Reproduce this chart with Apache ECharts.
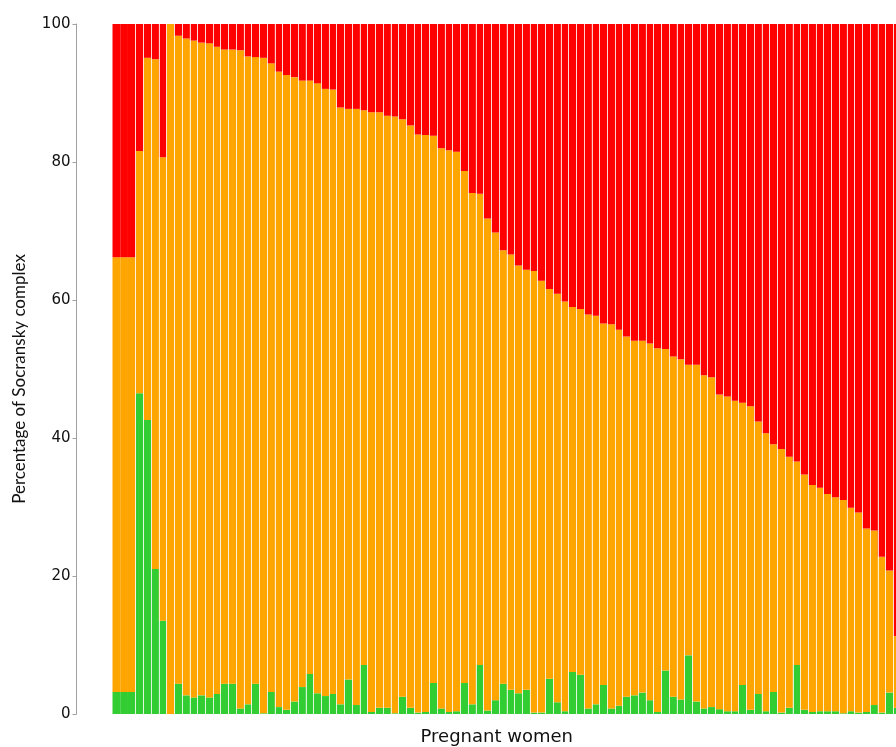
<!DOCTYPE html>
<html>
<head>
<meta charset="utf-8">
<script src="https://cdn.jsdelivr.net/npm/echarts@6/dist/echarts.min.js"></script>
<style>
html,body{margin:0;padding:0;background:#fff;}
#c{width:896px;height:747px;}
</style>
</head>
<body>
<div id="c"></div>
<script>
// Bars (one per pregnant woman)
const women = Array.from({length: 102}, (_, i) => String(i + 1));

const greenComplex = [3.2,3.2,3.2,46.5,42.6,21.0,13.5,0,4.4,2.7,2.4,2.7,2.4,2.9,4.4,4.4,0.8,1.4,4.4,0.1,3.2,1.0,0.6,1.8,3.9,5.8,3.0,2.6,2.9,1.4,5.0,1.3,7.1,0.3,0.9,0.9,0.1,2.5,0.9,0.2,0.3,4.5,0.8,0.3,0.4,4.5,1.4,7.1,0.5,2.0,4.4,3.5,3.0,3.5,0.2,0.2,5.1,1.7,0.4,6.1,5.7,0.8,1.4,4.2,0.8,1.2,2.5,2.7,3.1,2.0,0.3,6.3,2.5,2.1,8.5,1.8,0.8,1.0,0.7,0.4,0.4,4.2,0.6,2.9,0.4,3.2,0.2,0.9,7.1,0.6,0.3,0.4,0.4,0.4,0.1,0.4,0.2,0.3,1.3,0.2,3.1,0.9];

const orangeComplex = [63.0,63.0,63.0,35.1,52.5,73.9,67.2,100,93.9,95.2,95.2,94.6,94.8,93.8,91.9,91.9,95.4,93.9,90.8,95.0,91.1,92.1,92.0,90.5,87.9,86.0,88.4,88.0,87.6,86.5,82.7,86.4,80.4,86.9,86.3,85.8,86.5,83.7,84.4,83.8,83.6,79.3,81.2,81.4,81.1,74.2,74.1,68.3,71.3,67.8,62.8,63.1,62.0,60.9,64.0,62.6,56.5,59.2,59.4,52.9,53.0,57.1,56.3,52.4,55.7,54.5,52.2,51.4,51.0,51.7,52.7,46.6,49.3,49.3,42.1,48.8,48.3,47.8,45.6,45.6,45.0,40.9,44.0,39.5,40.3,35.9,38.2,36.4,29.5,34.1,32.9,32.4,31.5,31.0,30.9,29.5,29.0,26.6,25.3,22.6,17.7,10.4];

const redComplex = [33.8,33.8,33.8,18.4,4.9,5.1,19.3,0,1.7,2.1,2.4,2.7,2.8,3.3,3.7,3.7,3.8,4.7,4.8,4.9,5.7,6.9,7.4,7.7,8.2,8.2,8.6,9.4,9.5,12.1,12.3,12.3,12.5,12.8,12.8,13.3,13.4,13.8,14.7,16.0,16.1,16.2,18.0,18.3,18.5,21.3,24.5,24.6,28.2,30.2,32.8,33.4,35.0,35.6,35.8,37.2,38.4,39.1,40.2,41.0,41.3,42.1,42.3,43.4,43.5,44.3,45.3,45.9,45.9,46.3,47.0,47.1,48.2,48.6,49.4,49.4,50.9,51.2,53.7,54.0,54.6,54.9,55.4,57.6,59.3,60.9,61.6,62.7,63.4,65.3,66.8,67.2,68.1,68.6,69.0,70.1,70.8,73.1,73.4,77.2,79.2,88.7];

const yTicks = [0, 20, 40, 60, 80, 100];

const chart = echarts.init(document.getElementById('c'), null, {renderer: 'canvas'});
chart.setOption({
  animation: false,
  backgroundColor: '#ffffff',
  grid: {left: 112.5, width: 788.5, top: 24, height: 690, containLabel: false, outerBoundsMode: 'none'},
  xAxis: {
    type: 'category',
    data: women,
    z: 10,
    axisLine: {show: false},
    axisTick: {show: false},
    axisLabel: {show: false},
    splitLine: {
      show: true,
      interval: function (index) { return index > 2; },
      lineStyle: {color: 'rgba(255,255,255,0.8)', width: 1}
    },
    name: 'Pregnant women',
    nameLocation: 'middle',
    nameGap: 14,
    nameTextStyle: {fontFamily: 'DejaVu Sans', fontSize: 18, color: '#111', padding: [0, 20, 0, 0], verticalAlign: 'top'}
  },
  yAxis: {
    type: 'value',
    min: 0, max: 100, interval: 20,
    offset: 36,
    axisLine: {show: true, lineStyle: {color: '#a0a0a0', width: 1}},
    axisTick: {show: true, length: 4, lineStyle: {color: '#a0a0a0'}},
    splitLine: {show: false},
    axisLabel: {
      fontFamily: 'DejaVu Sans', fontSize: 15, color: '#111', margin: 6,
      formatter: function (v) { return yTicks.indexOf(v) >= 0 ? String(v) : ''; }
    },
    name: 'Percentage of Socransky complex',
    nameLocation: 'middle',
    nameRotate: 90,
    nameGap: 48,
    nameTextStyle: {fontFamily: 'Lato', fontSize: 17, color: '#111', padding: [0, 20, 0, 0]}
  },
  series: [
    {name: 'Green', type: 'bar', stack: 'all', data: greenComplex, barCategoryGap: '0%', itemStyle: {color: '#32CD32'}},
    {name: 'Orange', type: 'bar', stack: 'all', data: orangeComplex, itemStyle: {color: '#FFA500'}},
    {name: 'Red', type: 'bar', stack: 'all', data: redComplex, itemStyle: {color: '#FF0000'}}
  ]
});
</script>
</body>
</html>
